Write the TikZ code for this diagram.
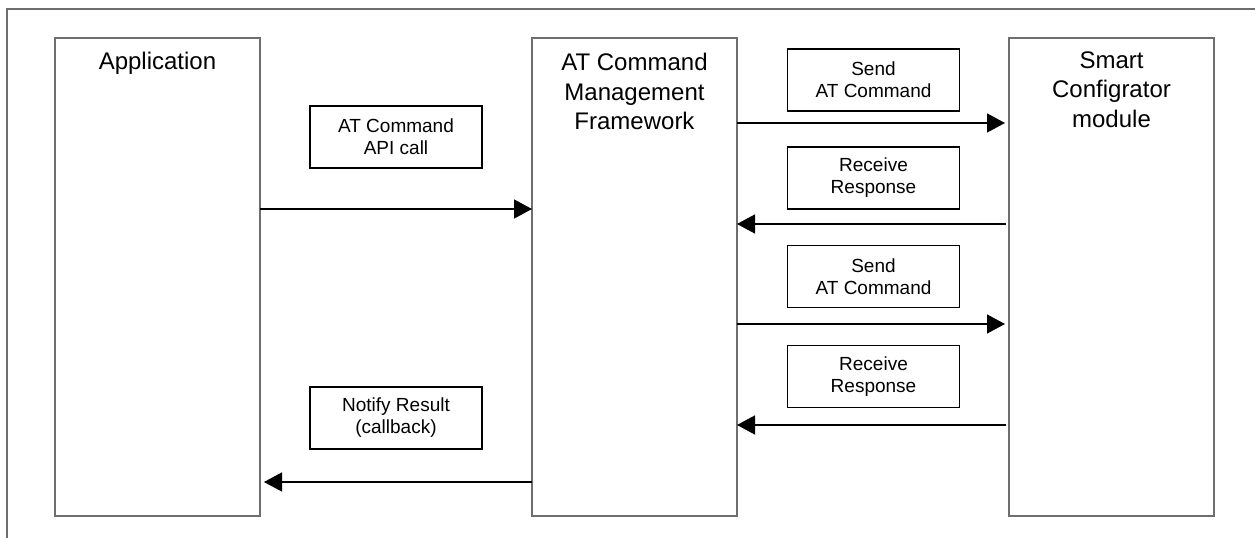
\documentclass[tikz,border=0pt]{standalone}
\usepackage{fontspec}
\setmainfont{Liberation Sans}
\usetikzlibrary{arrows.meta}
\definecolor{framegray}{HTML}{6E6E6E}
\begin{document}
\begin{tikzpicture}[x=1bp,y=-1bp,
  bigbox/.style={draw=framegray, line width=1.5bp, minimum width=205bp, minimum height=478bp, inner sep=0pt, outer sep=0pt},
  bigtext/.style={anchor=north, align=center, inner sep=0pt, font=\fontsize{24bp}{29.5bp}\selectfont},
  msgbox/.style={draw=black, line width=1.3bp, minimum width=172bp, minimum height=62bp, inner sep=0pt, outer sep=0pt, align=center, font=\fontsize{19bp}{22bp}\selectfont},
  arr/.style={line width=1.5bp, -{Triangle[length=18bp,width=19bp]}}]
\useasboundingbox (0,0) rectangle (1255,538);
% outer frame (top and left edges only)
\coordinate (fbl) at (7,538);
\coordinate (ftl) at (7,9);
\coordinate (ftr) at (1255,9);
\draw[framegray, line width=1.3bp] (fbl) -- (ftl) -- (ftr);
% lifeline boxes
\node[bigbox] (app) at (157.5,277) {};
\node[bigbox] (atc) at (634.5,277) {};
\node[bigbox] (scm) at (1111.5,277) {};
\node[bigtext] (appt) at (157.5,51.5) {Application};
\node[bigtext] (atct) at (634.5,53) {AT Command\\Management\\Framework};
\node[bigtext] (scmt) at (1111.5,51.5) {Smart\\Configrator\\module};
% message labels
\node[msgbox] (api) at (396,137) {AT Command\\API call};
\node[msgbox] (snd1) at (873.5,80) {Send\\AT Command};
\node[msgbox] (rcv1) at (873.5,178) {Receive\\Response};
\node[msgbox] (snd2) at (873.5,276.5) {Send\\AT Command};
\node[msgbox] (rcv2) at (873.5,376.5) {Receive\\Response};
\node[msgbox] (ntf) at (396,418) {Notify Result\\(callback)};
% arrow levels
\coordinate (ya) at (0,209);
\coordinate (ys1) at (0,123);
\coordinate (yr1) at (0,224);
\coordinate (ys2) at (0,324);
\coordinate (yr2) at (0,425);
\coordinate (yn) at (0,482);
\draw[arr] (app.east |- ya) -- (atc.west |- ya);
\draw[arr, shorten >=4bp] (atc.east |- ys1) -- (scm.west |- ys1);
\draw[arr, shorten <=3bp] (scm.west |- yr1) -- (atc.east |- yr1);
\draw[arr, shorten >=4bp] (atc.east |- ys2) -- (scm.west |- ys2);
\draw[arr, shorten <=3bp] (scm.west |- yr2) -- (atc.east |- yr2);
\draw[arr, shorten >=4bp] (atc.west |- yn) -- (app.east |- yn);
\end{tikzpicture}
\end{document}
